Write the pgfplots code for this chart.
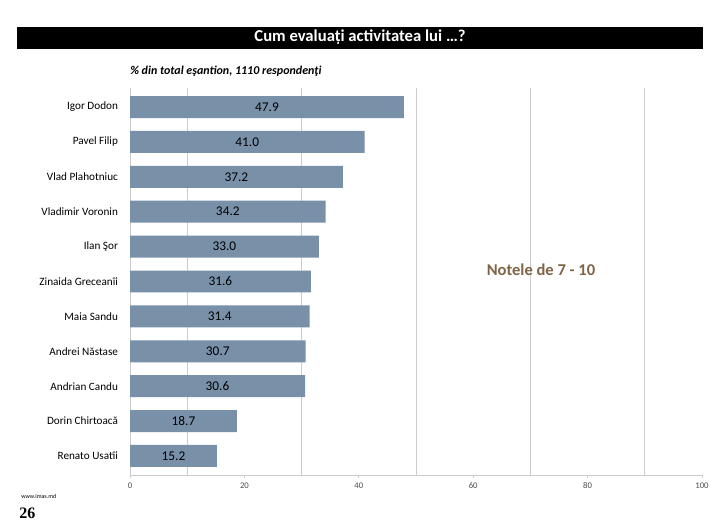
\documentclass[border=0pt]{standalone}
\usepackage{pgfplots}
\pgfplotsset{compat=1.18}
\usepackage{pgfplotstable}
\usepackage{fontspec}
\setmainfont{Carlito}
\newfontfamily\serifbold{Liberation Serif}
\definecolor{barblue}{RGB}{120,144,168}
\definecolor{gridgrey}{RGB}{204,204,204}
\definecolor{notebrown}{RGB}{128,100,70}
\pgfplotstableread{
idx val
0 47.9
1 41.0
2 37.2
3 34.2
4 33.0
5 31.6
6 31.4
7 30.7
8 30.6
9 18.7
10 15.2
}\datatable
\begin{document}
\begin{tikzpicture}
\fill[white] (0,0) rectangle (540pt,393.75pt);
% title bar
\fill[black] (12.75pt,357pt) rectangle (527.25pt,373.5pt);
\node[white,font=\fontsize{12.5}{14}\selectfont\bfseries] at (270pt,365.5pt) {Cum evaluați activitatea lui …?};
\node[anchor=west,inner sep=0pt,font=\fontsize{9}{10}\selectfont\bfseries\itshape] at (97.5pt,340.5pt) {\% din total eşantion, 1110 respondenţi};
\node[anchor=west,font=\fontsize{4.5}{5}\selectfont] at (12.5pt,21.5pt) {www.imas.md};
\node[anchor=west,font=\fontsize{12}{13}\selectfont\serifbold\bfseries] at (11pt,8.5pt) {26};
\begin{axis}[
  at={(97.5pt,37.5pt)}, anchor=south west,
  scale only axis, width=429pt, height=290.25pt,
  xmin=0, xmax=100, ymin=-0.545, ymax=10.545,
  y dir=reverse,
  axis x line*=bottom, axis y line*=left,
  axis line style={gridgrey, line width=0.7pt},
  xtick={0,20,...,100},
  minor xtick={10,30,50,70,90},
  xminorgrids=true,
  minor grid style={gridgrey, line width=0.6pt},
  minor tick length=0pt,
  major tick length=2.5pt,
  tick align=outside,
  x tick style={gridgrey, line width=0.6pt},
  ytick={0,...,10},
  y tick style={draw=none},
  yticklabels={Igor Dodon, Pavel Filip, Vlad Plahotniuc, Vladimir Voronin, Ilan Şor, Zinaida Greceanîi, Maia Sandu, Andrei Năstase, Andrian Candu, Dorin Chirtoacă, Renato Usatîi},
  y tick label style={font=\fontsize{8.4}{9}\selectfont, xshift=-3pt},
  x tick label style={font=\fontsize{6.5}{7}\selectfont, text=black!70},
  /pgf/number format/assume math mode=true,
  clip=false,
]
\addplot[xbar, bar width=0.63, fill=barblue, draw=none] table[x=val, y=idx] {\datatable};
\addplot[only marks, mark=none, nodes near coords, point meta=explicit,
  nodes near coords style={font=\fontsize{10}{11}\selectfont, anchor=center, /pgf/number format/.cd, fixed, fixed zerofill, precision=1}]
  table[x expr=\thisrow{val}/2, y=idx, meta=val] {\datatable};
\end{axis}
\node[font=\fontsize{12.4}{13}\selectfont\bfseries, text=notebrown] at (405.75pt,191.25pt) {Notele de 7 - 10};
\end{tikzpicture}
\end{document}
